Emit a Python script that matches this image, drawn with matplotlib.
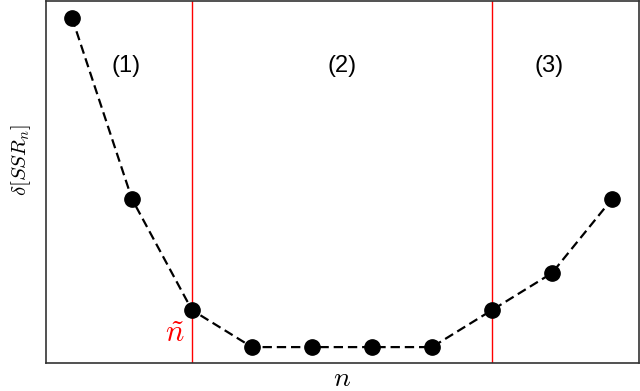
import numpy as np
import matplotlib
matplotlib.use('Agg')
import matplotlib.pyplot as plt

plt.rcParams['mathtext.fontset'] = 'cm'
plt.rcParams['font.family'] = ['Liberation Sans', 'DejaVu Sans']

# data
n = [1, 2, 3, 4, 5, 6, 7, 8, 9, 10]
ssr = [9.4, 4.5, 1.5, 0.5, 0.5, 0.5, 0.5, 1.5, 2.5, 4.5]
bounds = [3, 8]
regions = ['(1)', '(2)', '(3)']
region_x = [1.9, 5.5, 8.95]

fig = plt.figure(figsize=(6.4, 3.91), dpi=100)
ax = fig.add_axes([0.0719, 0.0716, 0.9265, 0.9255])

ax.plot(n, ssr, 'k--', lw=1.6, dashes=(4.2, 2.2), marker='o', ms=11, zorder=3)
for b in bounds:
    ax.axvline(b, color='red', lw=1.0, zorder=2)

for lab, xx in zip(regions, region_x):
    ax.text(xx, 8.1, lab, fontsize=17, ha='center', va='center')
ax.text(bounds[0] - 0.28, 0.85, r'$\tilde{n}$', color='red', fontsize=22,
        ha='center', va='center')

ax.set_xlim(0.567, 10.45)
ax.set_ylim(0.07, 9.85)
ax.set_xticks([])
ax.set_yticks([])
for s in ax.spines.values():
    s.set_color('#333333')
    s.set_linewidth(1.2)
ax.set_xlabel(r'$n$', fontsize=20, va='center')
ax.xaxis.set_label_coords(0.5, -0.045)
ax.set_ylabel(r'$\delta[SSR_n]$', fontsize=15, va='center')
ax.yaxis.set_label_coords(-0.042, 0.56)

fig.savefig('out.png', dpi=100)
